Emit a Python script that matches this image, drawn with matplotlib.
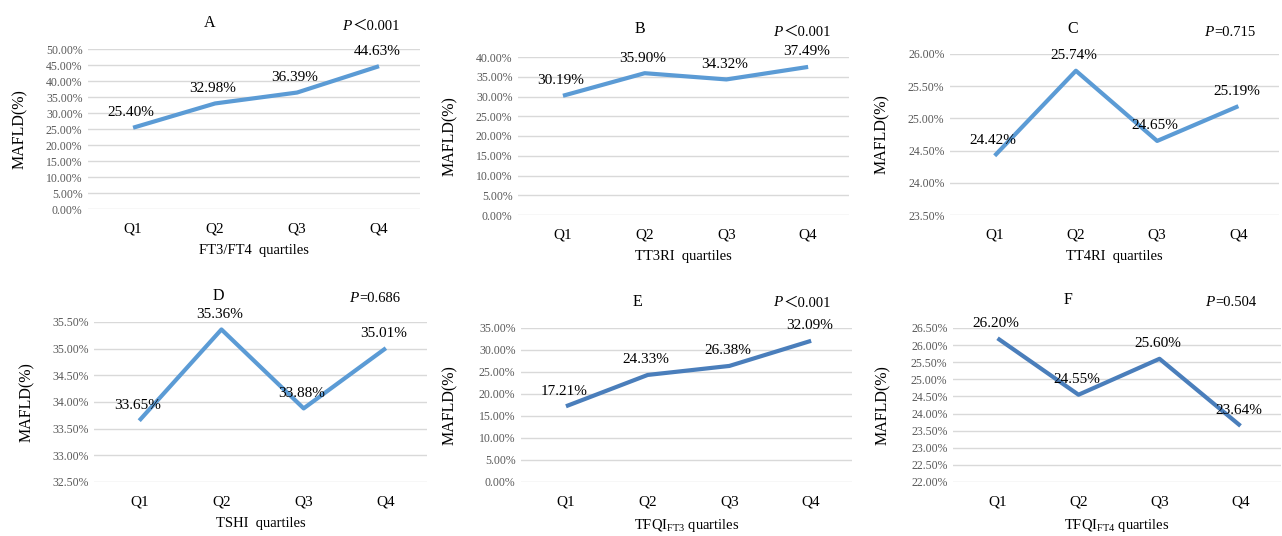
import numpy as np
import matplotlib.pyplot as plt

plt.rcParams['font.family'] = ['Liberation Serif', 'Noto Sans CJK SC', 'DejaVu Sans']
plt.rcParams['mathtext.fontset'] = 'custom'
plt.rcParams['mathtext.rm'] = 'Liberation Serif'
plt.rcParams['mathtext.it'] = 'Liberation Serif:italic'

# data (MAFLD prevalence, %)
quartiles = ['Q1', 'Q2', 'Q3', 'Q4']
vals_a = [25.40, 32.98, 36.39, 44.63]
vals_b = [30.19, 35.90, 34.32, 37.49]
vals_c = [24.42, 25.74, 24.65, 25.19]
vals_d = [33.65, 35.36, 33.88, 35.01]
vals_e = [17.21, 24.33, 26.38, 32.09]
vals_f = [26.20, 24.55, 25.60, 23.64]

titles = ['A', 'B', 'C', 'D', 'E', 'F']
p_texts = ['＜0.001', '＜0.001', '=0.715', '=0.686', '＜0.001', '=0.504']
xlabels = ['FT3/FT4  quartiles', 'TT3RI  quartiles', 'TT4RI  quartiles',
           'TSHI  quartiles', r'TFQI$_{\mathrm{FT3}}$ quartiles', r'TFQI$_{\mathrm{FT4}}$ quartiles']
yticks = [np.arange(0, 50.1, 5), np.arange(0, 40.1, 5), np.arange(23.5, 26.01, 0.5),
          np.arange(32.5, 35.51, 0.5), np.arange(0, 35.1, 5), np.arange(22, 26.51, 0.5)]
series = [vals_a, vals_b, vals_c, vals_d, vals_e, vals_f]

W, H = 1282, 536
# axes boxes in pixels: x0, x1, ytop, ybottom
boxes = [(88, 420, 49, 209), (518, 849, 57, 215), (950, 1279, 54, 215),
         (94, 427, 322, 482), (521, 852, 328, 482), (953, 1281, 328, 482)]
title_pos = [(210, 23), (640, 29), (1073, 29), (218, 296), (637, 302), (1068, 300)]
p_pos = [(347, 26), (778, 32), (1209, 32), (354, 299), (778, 303), (1210, 303)]
ylab_x = [20, 450, 882, 27, 450, 883]
colors = ['#5B9BD5'] * 4 + ['#4A7EBB'] * 2

fig = plt.figure(figsize=(W / 100, H / 100), dpi=100)

for i in range(6):
    x0, x1, yt, yb = boxes[i]
    ax = fig.add_axes([x0 / W, 1 - yb / H, (x1 - x0) / W, (yb - yt) / H])
    x = np.arange(len(quartiles))
    ax.plot(x, series[i], color=colors[i], lw=3, solid_capstyle='butt', zorder=3)
    for xi, v in zip(x, series[i]):
        ax.annotate('{:.2f}%'.format(v), (xi, v), xytext=(-2, 15), textcoords='offset pixels',
                    ha='center', va='center', fontsize=11, color='black', zorder=4)
    ax.set_xlim(-0.55, 3.5)
    yt_ = yticks[i]
    ax.set_ylim(yt_[0], yt_[-1])
    ax.set_yticks(yt_)
    ax.set_yticklabels(['{:.2f}%'.format(t) for t in yt_], fontsize=8.5, color='#595959')
    ax.set_xticks(x)
    ax.set_xticklabels(quartiles, fontsize=11)
    ax.tick_params(length=0, pad=10)
    ax.tick_params(axis='y', pad=4)
    ax.grid(axis='y', color='#D9D9D9', lw=1)
    ax.set_axisbelow(True)
    for s in ax.spines.values():
        s.set_visible(False)
    ax.set_xlabel(xlabels[i], fontsize=10.5, labelpad=6)
    fig.text(ylab_x[i] / W, 1 - (yt + yb) / 2 / H, 'MAFLD(%)', rotation=90,
             ha='center', va='center', fontsize=11.5)
    tx, ty = title_pos[i]
    fig.text(tx / W, 1 - ty / H, titles[i], ha='center', va='center', fontsize=11.5)
    px, py = p_pos[i]
    fig.text(px / W, 1 - py / H, 'P', style='italic', ha='center', va='center', fontsize=11)
    fig.text((px + 5) / W, 1 - py / H, p_texts[i], ha='left', va='center', fontsize=10.5)

fig.savefig('out.png', dpi=100, facecolor='white')
